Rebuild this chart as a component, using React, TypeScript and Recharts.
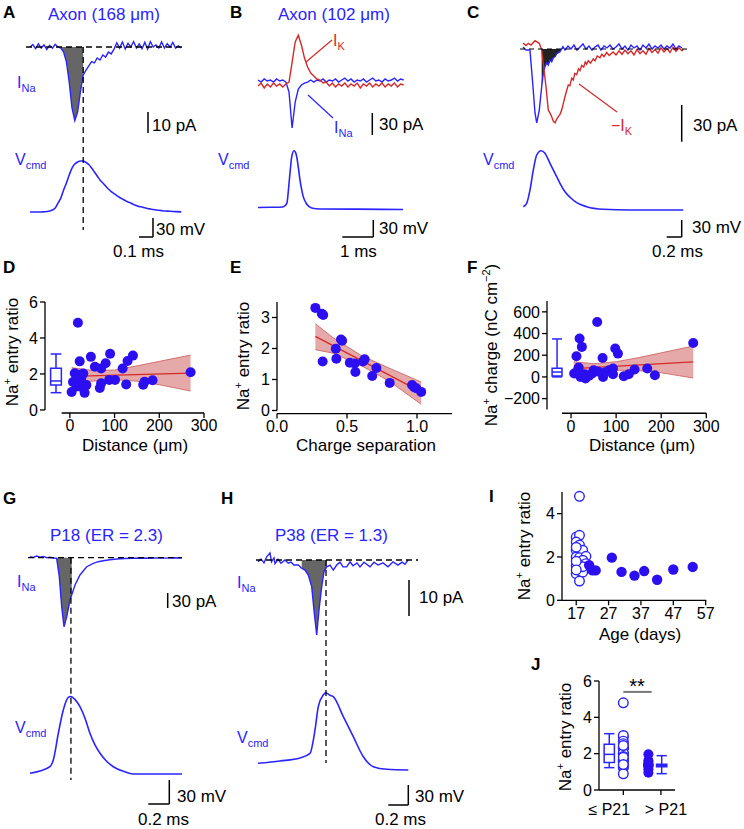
import React from 'react';
import {
  ComposedChart, Line, Area, Scatter, XAxis, YAxis, ReferenceLine, ReferenceArea,
} from 'recharts';

const FONT = '"Liberation Sans", Arial, Helvetica, sans-serif';
const BLUE = '#2a24ff';
const DOT = '#2b0ff0';
const RED = '#d42a2a';
const BAND = '#de8c8c';
const BAND_EDGE = '#c95c5c';

type Pt = [number, number];
type Band = [number, number, number];
type Five = [number, number, number, number, number];

// ---- A: axon 168 um. t in ms, current in pA, command in mV above rest
const aINa: Pt[] = [
  [0, 0], [0.02, 1.2], [0.04, -0.8], [0.06, 1.5], [0.08, -0.5], [0.1, 1], [0.12, -1.2], [0.14, 0.8],
  [0.16, -0.6], [0.18, 1.3], [0.2, 0], [0.22, -0.5], [0.24, -2.4], [0.26, -7], [0.28, -16.7], [0.3, -29],
  [0.32, -35], [0.34, -31], [0.36, -21.4], [0.38, -13.3], [0.4, -11], [0.42, -9], [0.44, -7], [0.46, -7.6],
  [0.48, -5.2], [0.5, -6.2], [0.52, -3.8], [0.54, -4.8], [0.56, -2.4], [0.58, -3.3], [0.6, -1], [0.62, 2],
  [0.64, -0.5], [0.66, 2.4], [0.68, -1], [0.7, 1.8], [0.72, 0], [0.74, 2.6], [0.76, -0.5], [0.78, 1.5],
  [0.8, -0.8], [0.82, 2.2], [0.84, -1], [0.86, 2.5], [0.88, 0], [0.9, 1], [0.92, -0.5], [0.94, 2.4],
  [0.96, -0.5], [0.98, 1.6], [1.0, 0], [1.02, 2.2], [1.04, -0.5], [1.06, 0.5], [1.08, -0.5],
];
const aVcmd: Pt[] = [
  [0, 0], [0.08, 0], [0.1, 0.3], [0.12, 0.8], [0.14, 1.6], [0.16, 3.2], [0.18, 6.3], [0.2, 14.2],
  [0.22, 22], [0.24, 34.8], [0.26, 45.8], [0.28, 58.5], [0.3, 69.5], [0.32, 75.8], [0.34, 79], [0.36, 80.6],
  [0.38, 80.6], [0.4, 78.2], [0.42, 75], [0.44, 69.5], [0.46, 63.2], [0.48, 56.9], [0.5, 50.6], [0.52, 45.8],
  [0.54, 41], [0.56, 36.3], [0.58, 32.4], [0.6, 29.2], [0.62, 26], [0.64, 22.9], [0.66, 20.5], [0.68, 18.2],
  [0.7, 15.8], [0.72, 14.2], [0.74, 11.8], [0.76, 10.3], [0.78, 8.7], [0.8, 7.9], [0.82, 6.6], [0.84, 5.5],
  [0.86, 4.7], [0.88, 3.9], [0.9, 3.2], [0.92, 2.7], [0.94, 2.2], [0.96, 1.7], [0.98, 1.4], [1.0, 1.1],
  [1.04, 0.6], [1.08, 0.3],
];
const A_PEAK = 0.38;

// ---- B: axon 102 um
const bIK: Pt[] = [
  [0, -1.4], [0.1, 2.7], [0.2, -4], [0.3, 1.4], [0.4, -2.7], [0.5, 2.7], [0.6, -1.4], [0.7, 1.4],
  [0.8, -2.7], [0.9, 1.4], [1.0, 4], [1.1, 31], [1.2, 58.7], [1.3, 68], [1.4, 54.6], [1.5, 36.8],
  [1.6, 24.6], [1.7, 16.4], [1.8, 12.3], [1.9, 8.2], [2.0, 6.8], [2.1, 2.7], [2.2, 4], [2.3, -1.4],
  [2.4, 2.7], [2.5, -2.7], [2.6, 1.4], [2.7, -1.4], [2.8, 2.7], [2.9, -2.7], [3.0, 1.4], [3.1, -1.4],
  [3.2, 2.7], [3.3, -4], [3.4, 1.4], [3.5, -1.4], [3.6, 2.7], [3.7, -2.7], [3.8, 1.4], [3.9, -1.4],
  [4.0, 2.7], [4.1, -2.7], [4.2, 1.4], [4.3, -1.4], [4.4, 2.7], [4.5, -2.7], [4.6, 1.4], [4.7, 0],
];
const bINa: Pt[] = [
  [0, 6.8], [0.1, 4], [0.2, 8.2], [0.3, 5.5], [0.4, 6.8], [0.5, 4], [0.6, 8.2], [0.7, 5.5],
  [0.8, 6.8], [0.9, 4], [1.0, -9.5], [1.1, -58.7], [1.2, -23.2], [1.3, -5.5], [1.4, 0], [1.5, 2.7],
  [1.6, 4], [1.7, 6.8], [1.8, 4], [1.9, 6.8], [2.0, 5.5], [2.1, 8.2], [2.2, 4], [2.3, 6.8],
  [2.4, 5.5], [2.5, 8.2], [2.6, 4], [2.7, 6.8], [2.8, 9.5], [2.9, 5.5], [3.0, 8.2], [3.1, 4],
  [3.2, 6.8], [3.3, 5.5], [3.4, 8.2], [3.5, 4], [3.6, 6.8], [3.7, 9.5], [3.8, 5.5], [3.9, 6.8],
  [4.0, 4], [4.1, 8.2], [4.2, 5.5], [4.3, 6.8], [4.4, 9.5], [4.5, 5.5], [4.6, 8.2], [4.7, 6.8],
];
const bVcmd: Pt[] = [
  [0, 0.9], [0.4, 1.2], [0.8, 1.8], [0.93, 8], [0.97, 25], [1.01, 49], [1.05, 72], [1.087, 90],
  [1.16, 101], [1.21, 98], [1.25, 90], [1.3, 72], [1.355, 49], [1.41, 32], [1.46, 20], [1.57, 7],
  [1.73, 0], [2.0, -1.8], [3.0, -2], [4.0, -2.4], [4.68, -2.6],
];

// ---- C: I_Na and -I_K overlaid
const cINa: Pt[] = [
  [0, 1.7], [0.04, -0.9], [0.093, -0.9], [0.129, -29.1], [0.16, -54.8], [0.183, -63.2], [0.217, -52.3],
  [0.249, -32.3], [0.271, -20.6], [0.293, -15.2], [0.315, -12], [0.337, -13.7], [0.36, -9.5], [0.383, -10.9],
  [0.405, -7.5], [0.427, -6.6], [0.45, -4], [0.493, -2.3], [0.533, 2], [0.56, -0.9], [0.6, 2.6], [0.64, 0],
  [0.68, 3.4], [0.72, -0.9], [0.76, 1.7], [0.8, 4.3], [0.84, 0], [0.88, 2.6], [0.92, -0.9], [0.96, 1.7],
  [1.0, 3.4], [1.04, -0.9], [1.08, 2.6], [1.12, 0.9], [1.16, 3.4], [1.2, 0], [1.24, 1.7], [1.28, 4.3],
  [1.32, 0], [1.36, 2.6], [1.4, -0.9], [1.44, 3.4], [1.48, 0.9], [1.52, 2.6], [1.56, -0.9], [1.6, 3.4],
  [1.64, 0.9], [1.68, 4.3], [1.72, 0], [1.76, 2.6], [1.8, 0.9], [1.84, 3.4], [1.88, 0], [1.92, 2.6],
  [1.96, 0.9], [2.0, 4.3], [2.04, 0], [2.08, 2.6], [2.12, 0.9],
];
const cIKneg: Pt[] = [
  [0, 5.1], [0.04, 3], [0.071, 4.9], [0.107, 3.4], [0.16, 7.1], [0.217, 4.9], [0.249, -0.9], [0.28, -18],
  [0.307, -32.3], [0.337, -52.3], [0.36, -55], [0.383, -58], [0.405, -62], [0.427, -63.2], [0.45, -60],
  [0.471, -58], [0.493, -56], [0.516, -52.3], [0.54, -46], [0.56, -40.9], [0.58, -36], [0.604, -30.8],
  [0.625, -31.5], [0.65, -25], [0.671, -26.6], [0.69, -21], [0.716, -22], [0.74, -17], [0.76, -18.5],
  [0.783, -14], [0.81, -15.5], [0.83, -11], [0.849, -13], [0.87, -10], [0.9, -12], [0.937, -8.5],
  [0.96, -10], [0.99, -6], [1.027, -7.5], [1.05, -4.5], [1.08, -6.5], [1.116, -3], [1.15, -5.5],
  [1.2, -2.5], [1.24, -5], [1.28, -1.5], [1.32, -4.5], [1.36, -1], [1.4, -4], [1.44, -1.5], [1.48, -5],
  [1.52, -0.5], [1.56, -4], [1.6, -1.5], [1.64, -4.5], [1.68, 0.5], [1.72, -3], [1.76, -0.5], [1.8, -3.5],
  [1.84, 1], [1.88, -2.5], [1.92, 0.5], [1.96, -3], [2.0, 1.5], [2.04, -2], [2.08, 1], [2.12, -1.5], [2.14, 0],
];
const cVcmd: Pt[] = [
  [0.004, 0.5], [0.049, 6.5], [0.093, 29.6], [0.137, 65], [0.183, 91.7], [0.24, 99.3], [0.293, 94.7],
  [0.36, 77], [0.427, 59.4], [0.493, 41.8], [0.56, 27], [0.627, 17.1], [0.716, 7.6], [0.849, 0.5],
  [1.071, -4], [1.427, -5.3], [2.137, -5.3],
];

// ---- G: P18 (ER = 2.3)
const gINa: Pt[] = [
  [0, 2], [0.03, 0.5], [0.064, 3.4], [0.095, 1], [0.127, 2.5], [0.16, 0], [0.19, 0.8], [0.22, -0.5],
  [0.254, -1.2], [0.279, -38], [0.302, -98], [0.324, -138], [0.35, -118], [0.381, -84.6], [0.397, -74.6],
  [0.429, -54.6], [0.476, -34.6], [0.54, -18], [0.603, -11.2], [0.65, -8], [0.698, -6], [0.76, -4],
  [0.826, -2.6], [0.9, -1.5], [0.984, -1.2], [1.06, -0.6], [1.143, -1.2], [1.22, -0.4], [1.3, -0.8],
  [1.38, -0.2], [1.445, -0.5],
];
const gVcmd: Pt[] = [
  [0, 0.9], [0.095, 3.8], [0.19, 9.1], [0.222, 17.5], [0.27, 50.9], [0.317, 80], [0.365, 95.9],
  [0.386, 96.9], [0.43, 93], [0.476, 84.1], [0.524, 69.6], [0.571, 50.9], [0.619, 36.3], [0.667, 25.9],
  [0.73, 16], [0.794, 9.1], [0.89, 3.5], [0.984, 0], [1.2, 0], [1.448, 0],
];
const G_PEAK = 0.39;

// ---- H: P38 (ER = 1.3)
const hINa: Pt[] = [
  [0, -0.5], [0.03, 0.3], [0.06, -0.8], [0.087, 0.9], [0.12, 2.0], [0.135, -0.5], [0.16, 0.6], [0.17, -1],
  [0.2, 0.2], [0.23, -0.9], [0.27, 0], [0.303, -0.9], [0.33, -0.6], [0.36, -1.4], [0.403, -1.4],
  [0.437, -2.3], [0.47, -2.8], [0.503, -4.2], [0.537, -7.4], [0.563, -14.8], [0.587, -20.8], [0.61, -13.9],
  [0.637, -7.4], [0.66, -3.2], [0.687, -1.9], [0.72, -1.4], [0.753, -2.8], [0.787, -1.4], [0.82, -0.6],
  [0.85, -1.9], [0.887, -1.9], [0.92, -0.5], [0.95, -1.6], [0.99, -0.8], [1.02, -1.9], [1.06, -0.6],
  [1.12, -1.9], [1.16, -0.6], [1.2, -1.4], [1.25, -0.8], [1.3, -1.9], [1.35, -0.5], [1.4, -1.4],
  [1.44, -0.6], [1.47, -1.2], [1.5, 0],
];
const hVcmd: Pt[] = [
  [0, 10], [0.22, 13.5], [0.42, 18], [0.52, 25], [0.57, 60], [0.603, 95], [0.653, 112.4], [0.677, 115.9],
  [0.72, 112], [0.753, 109.9], [0.853, 79.9], [0.953, 49.9], [1.053, 19.9], [1.153, 4.9], [1.287, 1],
  [1.503, 0],
];
const H_PEAK = 0.68;

// ---- D: entry ratio vs distance
const dDistance = [18, 22, 47, 56, 70, 80, 90, 118, 129, 141, 11, 30, 7, 15, 4, 33, 37, 22, 67, 70, 88, 101, 126, 164, 167, 185, 270, 25, 20, 28];
const dRatio = [4.85, 2.7, 2.95, 2.4, 2.3, 2.6, 3.12, 2.3, 2.72, 3.02, 2.04, 2.02, 1.55, 1.3, 1.0, 0.95, 1.38, 1.3, 1.22, 1.48, 1.67, 1.67, 1.42, 1.4, 1.57, 1.65, 2.1, 1.78, 1.95, 1.5];
const dFit: Pt[] = [[4, 1.87], [270, 2.05]];
const dBand: Band[] = [[4, 1.5, 2.35], [50, 1.6, 2.2], [100, 1.68, 2.22], [150, 1.6, 2.45], [200, 1.4, 2.7], [270, 1.05, 3.05]];
const dBox: Five = [0.96, 1.39, 1.61, 2.32, 3.11];

// ---- E: entry ratio vs charge separation
const eCharge = [0.274, 0.32, 0.33, 0.326, 0.42, 0.424, 0.457, 0.465, 0.52, 0.555, 0.56, 0.614, 0.626, 0.71, 0.68, 0.805, 0.965, 0.98, 0.995, 1.03];
const eRatio = [3.31, 3.12, 3.08, 1.58, 1.99, 1.67, 2.29, 2.25, 1.54, 1.52, 1.24, 1.58, 1.65, 1.37, 1.11, 0.89, 0.82, 0.75, 0.72, 0.6];
const eFit: Pt[] = [[0.274, 2.39], [1.03, 0.6]];
const eBand: Band[] = [[0.274, 1.96, 2.8], [0.4, 1.85, 2.35], [0.6, 1.45, 1.78], [0.8, 0.95, 1.37], [1.03, 0.2, 0.92]];

// ---- F: Na+ charge vs distance
const fDistance = [58, 19, 24, 12, 98, 104, 70, 271, 7, 17, 21, 32, 47, 50, 71, 84, 93, 93, 117, 128, 141, 169, 186, 30, 75, 15, 40, 60];
const fCharge = [507, 354, 277, 191, 262, 215, 175, 313, 31, 87, 0, -15, 31, 62, 0, 62, 77, 25, 6, 25, 68, 77, 15, 25, 40, 56, 10, 50];
const fFit: Pt[] = [[6, 77], [271, 138]];
const fBand: Band[] = [[6, 15, 140], [50, 45, 122], [100, 62, 140], [150, 58, 178], [200, 38, 222], [271, -10, 285]];
const fBox: Five = [0, 8, 45, 80, 350];

// ---- I / J: entry ratio vs age
const iAgeOpen = [18, 17, 18, 17, 18, 17, 18, 19, 17, 18, 20, 19, 17, 18, 20, 17, 18, 19, 18, 17, 19, 17, 17];
const iRatioOpen = [4.8, 2.92, 3.0, 2.69, 2.55, 2.31, 2.3, 2.31, 2.0, 1.97, 2.03, 1.85, 1.6, 1.62, 1.69, 1.23, 1.38, 1.3, 0.89, 2.45, 1.55, 1.8, 1.4];
const iAgeFilled = [21, 22, 23, 28, 31, 35, 38, 42, 47, 53];
const iRatioFilled = [1.62, 1.38, 1.38, 1.97, 1.31, 1.14, 1.35, 0.95, 1.42, 1.54];

const jCats = ['\u2264 P21', '> P21'];
const jTickX = [1.28, 3.26];
const jDotX = [1.28, 2.6];
const jBoxX = [0.54, 3.3];
const jBoxes: Five[] = [[1.23, 1.51, 1.96, 2.52, 3.1], [0.9, 1.28, 1.35, 1.42, 1.89]];

// helpers
const xy = (pts: Pt[]) => pts.map(([x, y]) => ({ x, y }));
const zip = (xs: number[], ys: number[]) => xs.map((x, k) => ({ x, y: ys[k] }));
const bandRows = (b: Band[]) => b.map(([x, lo, hi]) => ({ x, band: [lo, hi] }));
const within = (pts: Pt[], t0: number, t1: number) => xy(pts.filter(([t]) => t >= t0 && t <= t1));
const minus = (v: number) => (v < 0 ? '\u2212' + Math.abs(v) : String(v));

const TICK = { fontSize: 16, fill: '#000', fontFamily: FONT };
const AXIS = { stroke: '#000', strokeWidth: 1.3 };

const filledDot = (r: number) => (p: any) => <circle cx={p.cx} cy={p.cy} r={r} fill={DOT} />;
const openDot = (r: number) => (p: any) => (
  <circle cx={p.cx} cy={p.cy} r={r} fill="#fff" stroke={BLUE} strokeWidth={1.4} />
);

const trace = (key: string, pts: Pt[], axis: string, color: string, curve: 'linear' | 'monotone' = 'linear', w = 1.4) => (
  <Line key={key} yAxisId={axis} data={xy(pts)} dataKey="y" type={curve} stroke={color}
    strokeWidth={w} dot={false} isAnimationActive={false} />
);

const shade = (key: string, rows: { x: number; y: number }[], color: string) => (
  <Area key={key} yAxisId="i" data={rows} dataKey="y" type="linear" baseValue={0} fill={color}
    fillOpacity={1} stroke="none" isAnimationActive={false} />
);

const boxPlot = (key: string, cx: number, hw: number, [lo, q1, med, q3, hi]: Five, color: string) => [
  <ReferenceLine key={key + 'w1'} segment={[{ x: cx, y: lo }, { x: cx, y: q1 }]} stroke={color} strokeWidth={1.5} />,
  <ReferenceLine key={key + 'w2'} segment={[{ x: cx, y: q3 }, { x: cx, y: hi }]} stroke={color} strokeWidth={1.5} />,
  <ReferenceLine key={key + 'c1'} segment={[{ x: cx - hw, y: lo }, { x: cx + hw, y: lo }]} stroke={color} strokeWidth={1.5} />,
  <ReferenceLine key={key + 'c2'} segment={[{ x: cx - hw, y: hi }, { x: cx + hw, y: hi }]} stroke={color} strokeWidth={1.5} />,
  <ReferenceArea key={key + 'b'} x1={cx - hw} x2={cx + hw} y1={q1} y2={q3} fill="#fff" fillOpacity={1}
    stroke={color} strokeWidth={1.5} />,
  <ReferenceLine key={key + 'm'} segment={[{ x: cx - hw, y: med }, { x: cx + hw, y: med }]} stroke={color} strokeWidth={1.5} />,
];

type Box4 = [number, number, number, number];

const TraceChart = ({ box, x, i, v, children }: { box: Box4; x: Pt; i: Pt; v: Pt; children: React.ReactNode }) => (
  <div style={{ position: 'absolute', left: box[0], top: box[1] }}>
    <ComposedChart width={box[2]} height={box[3]} margin={{ top: 0, right: 0, bottom: 0, left: 0 }}>
      <XAxis type="number" dataKey="x" domain={x} hide allowDataOverflow />
      <YAxis yAxisId="i" type="number" dataKey="y" domain={i} hide allowDataOverflow />
      <YAxis yAxisId="v" type="number" dataKey="y" domain={v} hide allowDataOverflow />
      {children}
    </ComposedChart>
  </div>
);

const PlotChart = ({ plot, xDomain, yDomain, xTicks, yTicks, xFmt, yFmt, xTick, detached, children }: any) => {
  const [px, py, pw, ph] = plot;
  return (
    <div style={{ position: 'absolute', left: px - 45, top: py - 10 }}>
      <ComposedChart width={pw + 55} height={ph + 40} margin={{ top: 10, right: 10, bottom: 0, left: 0 }}>
        <XAxis type="number" dataKey="x" domain={xDomain} ticks={xTicks} interval={0} tickFormatter={xFmt}
          tick={xTick ?? TICK} tickLine={AXIS} axisLine={detached ? false : AXIS} tickSize={5} height={30} />
        <YAxis type="number" dataKey="y" domain={yDomain} ticks={yTicks} interval={0} tickFormatter={yFmt}
          tick={TICK} tickLine={AXIS} axisLine={detached ? false : AXIS} tickSize={5} width={45} />
        {children}
      </ComposedChart>
    </div>
  );
};

const Sub = ({ x, y, main, sub, color }: { x: number; y: number; main: string; sub: string; color: string }) => (
  <text x={x} y={y} fill={color} fontSize={16}>
    {main}
    <tspan fontSize={11} dy={4}>{sub}</tspan>
  </text>
);

const YLabel = ({ x, y, children }: { x: number; y: number; children: React.ReactNode }) => (
  <text transform={`translate(${x},${y}) rotate(-90)`} textAnchor="middle" fontSize={17} fill="#000">
    {children}
  </text>
);

const NaEntry = () => (
  <>
    Na<tspan dy={-7} fontSize={11}>+</tspan>
    <tspan dy={7}> entry ratio</tspan>
  </>
);

const Bar = ({ d }: { d: number[] }) => (
  <line x1={d[0]} y1={d[1]} x2={d[2]} y2={d[3]} stroke="#000" strokeWidth={1.5} />
);

const jTick = (p: any) => (
  <text x={p.x + (p.index === 0 ? -14 : 5)} y={p.y + 7} dy="0.71em" textAnchor="middle" fontSize={16}
    fontFamily={FONT} fill="#000">
    {jCats[p.index]}
  </text>
);

export default function App() {
  return (
    <div style={{ position: 'absolute', left: 0, top: 0, width: 744, height: 829, background: '#fff', overflow: 'hidden', fontFamily: FONT }}>
      <style>{'.recharts-surface{overflow:visible}'}</style>

      {/* A */}
      <TraceChart box={[26, 30, 156, 210]} x={[-0.0286, 1.0857]} i={[-91.9, 8.1]} v={[-44.2, 287.5]}>
        {shade('as', within(aINa, 0.22, A_PEAK), '#666')}
        {trace('ai', aINa, 'i', BLUE)}
        {trace('av', aVcmd, 'v', BLUE, 'monotone', 1.6)}
        <ReferenceLine yAxisId="i" y={0} stroke="#000" strokeWidth={1.3} strokeDasharray="6 4" />
        <ReferenceLine yAxisId="i" segment={[{ x: A_PEAK, y: 0 }, { x: A_PEAK, y: -87.1 }]} stroke="#000"
          strokeWidth={1.3} strokeDasharray="6 4" />
      </TraceChart>

      {/* B */}
      <TraceChart box={[255, 25, 150, 200]} x={[-0.097, 4.742]} i={[-191, 81.9]} v={[-30, 322.8]}>
        {trace('bn', bINa, 'i', BLUE)}
        {trace('bk', bIK, 'i', RED)}
        {trace('bv', bVcmd, 'v', BLUE, 'monotone', 1.6)}
      </TraceChart>

      {/* C */}
      <TraceChart box={[520, 30, 170, 200]} x={[-0.04, 2.227]} i={[-155.1, 16.3]} v={[-40.6, 312.2]}>
        {shade('cs', within(cINa, 0.249, 0.533), '#222')}
        {trace('cn', cINa, 'i', BLUE)}
        {trace('ck', cIKneg, 'i', RED)}
        {trace('cv', cVcmd, 'v', BLUE, 'monotone', 1.6)}
        <ReferenceLine yAxisId="i" y={0} stroke="#000" strokeWidth={1.2} strokeDasharray="5 4" />
      </TraceChart>

      {/* G */}
      <TraceChart box={[28, 540, 154, 250]} x={[-0.019, 1.448]} i={[-464.6, 35.4]} v={[-20, 292.5]}>
        {shade('gs', within(gINa, 0.254, 0.397), '#666')}
        {trace('gi', gINa, 'i', BLUE)}
        {trace('gv', gVcmd, 'v', BLUE, 'monotone', 1.6)}
        <ReferenceLine yAxisId="i" y={0} stroke="#000" strokeWidth={1.3} strokeDasharray="6 4" />
        <ReferenceLine yAxisId="i" segment={[{ x: G_PEAK, y: 0 }, { x: G_PEAK, y: -444.6 }]} stroke="#000"
          strokeWidth={1.3} strokeDasharray="6 4" />
      </TraceChart>

      {/* H */}
      <TraceChart box={[256, 540, 162, 250]} x={[-0.02, 1.6]} i={[-63.9, 5.56]} v={[-30, 344.8]}>
        {shade('hs', within(hINa, 0.42, 0.69), '#666')}
        {trace('hi', hINa, 'i', BLUE)}
        {trace('hv', hVcmd, 'v', BLUE, 'monotone', 1.6)}
        <ReferenceLine yAxisId="i" y={0} stroke="#000" strokeWidth={1.3} strokeDasharray="6 4" />
        <ReferenceLine yAxisId="i" segment={[{ x: H_PEAK, y: 0 }, { x: H_PEAK, y: -56.4 }]} stroke="#000"
          strokeWidth={1.3} strokeDasharray="6 4" />
      </TraceChart>

      {/* D */}
      <PlotChart plot={[45, 302, 159, 111]} xDomain={[-55.6, 300]} yDomain={[-0.17, 6]}
        xTicks={[0, 100, 200, 300]} yTicks={[0, 2, 4, 6]} detached>
        <Area data={bandRows(dBand)} dataKey="band" type="linear" fill={BAND} fillOpacity={0.75}
          stroke={BAND_EDGE} strokeWidth={0.8} isAnimationActive={false} />
        <Scatter data={zip(dDistance, dRatio)} shape={filledDot(5)} isAnimationActive={false} />
        <Line data={xy(dFit)} dataKey="y" stroke={RED} strokeWidth={1.3} dot={false} isAnimationActive={false} />
        {boxPlot('db', -31, 12, dBox, BLUE)}
        <ReferenceLine segment={[{ x: -18.4, y: -0.17 }, { x: 300, y: -0.17 }]} {...AXIS} />
        <ReferenceLine segment={[{ x: -55.6, y: 0 }, { x: -55.6, y: 6 }]} {...AXIS} />
      </PlotChart>

      {/* E */}
      <PlotChart plot={[277, 301.5, 175, 111.6]} xDomain={[0, 1.25]} yDomain={[-0.1, 3.5]}
        xTicks={[0, 0.5, 1]} yTicks={[0, 1, 2, 3]} xFmt={(v: number) => v.toFixed(1)} detached>
        <Area data={bandRows(eBand)} dataKey="band" type="linear" fill={BAND} fillOpacity={0.75}
          stroke={BAND_EDGE} strokeWidth={0.8} isAnimationActive={false} />
        <Scatter data={zip(eCharge, eRatio)} shape={filledDot(5)} isAnimationActive={false} />
        <Line data={xy(eFit)} dataKey="y" stroke={RED} strokeWidth={1.3} dot={false} isAnimationActive={false} />
        <ReferenceLine segment={[{ x: 0, y: -0.1 }, { x: 1.25, y: -0.1 }]} {...AXIS} />
        <ReferenceLine segment={[{ x: 0, y: 0 }, { x: 0, y: 3.5 }]} {...AXIS} />
      </PlotChart>

      {/* F */}
      <PlotChart plot={[546.7, 300.75, 159.3, 112.25]} xDomain={[-53.3, 300]} yDomain={[-335, 700]}
        xTicks={[0, 100, 200, 300]} yTicks={[-200, 0, 200, 400, 600]} yFmt={minus} detached>
        <Area data={bandRows(fBand)} dataKey="band" type="linear" fill={BAND} fillOpacity={0.75}
          stroke={BAND_EDGE} strokeWidth={0.8} isAnimationActive={false} />
        <Scatter data={zip(fDistance, fCharge)} shape={filledDot(5)} isAnimationActive={false} />
        <Line data={xy(fFit)} dataKey="y" stroke={RED} strokeWidth={1.3} dot={false} isAnimationActive={false} />
        {boxPlot('fb', -31, 11, fBox, BLUE)}
        <ReferenceLine segment={[{ x: -20, y: -335 }, { x: 300, y: -335 }]} {...AXIS} />
        <ReferenceLine segment={[{ x: -53.3, y: -300 }, { x: -53.3, y: 700 }]} {...AXIS} />
      </PlotChart>

      {/* I */}
      <PlotChart plot={[561.7, 491.7, 144.3, 108.3]} xDomain={[12.6, 57.2]} yDomain={[0, 5]}
        xTicks={[17, 27, 37, 47, 57]} yTicks={[0, 2, 4]}>
        <Scatter data={zip(iAgeOpen, iRatioOpen)} shape={openDot(4.8)} isAnimationActive={false} />
        <Scatter data={zip(iAgeFilled, iRatioFilled)} shape={filledDot(5.2)} isAnimationActive={false} />
      </PlotChart>

      {/* J */}
      <PlotChart plot={[599, 680.7, 76, 109]} xDomain={[0, 4]} yDomain={[0, 6]}
        xTicks={jTickX} yTicks={[0, 2, 4, 6]} xTick={jTick}>
        {boxPlot('j1', jBoxX[0], 0.27, jBoxes[0], BLUE)}
        {boxPlot('j2', jBoxX[1], 0.27, jBoxes[1], BLUE)}
        <Scatter data={iRatioOpen.map((y) => ({ x: jDotX[0], y }))} shape={openDot(4.8)} isAnimationActive={false} />
        <Scatter data={iRatioFilled.map((y) => ({ x: jDotX[1], y }))} shape={filledDot(5)} isAnimationActive={false} />
        <ReferenceLine segment={[{ x: 1.28, y: 5.4 }, { x: 2.77, y: 5.4 }]} stroke="#777" strokeWidth={2} />
      </PlotChart>

      <svg width={744} height={829} style={{ position: 'absolute', left: 0, top: 0, pointerEvents: 'none' }}
        fontFamily={FONT}>
        {/* panel letters */}
        <g fontSize={17} fontWeight="bold" fill="#000">
          <text x={3} y={18}>A</text>
          <text x={230} y={18}>B</text>
          <text x={467} y={18}>C</text>
          <text x={3} y={273}>D</text>
          <text x={230} y={273}>E</text>
          <text x={467} y={273}>F</text>
          <text x={3} y={504}>G</text>
          <text x={221} y={504}>H</text>
          <text x={489} y={502}>I</text>
          <text x={531} y={670}>J</text>
        </g>
        {/* titles */}
        <g fontSize={17} fill={BLUE}>
          <text x={48} y={20}>Axon (168 {'\u03bc'}m)</text>
          <text x={278} y={20}>Axon (102 {'\u03bc'}m)</text>
          <text x={50} y={541}>P18 (ER = 2.3)</text>
          <text x={275} y={541}>P38 (ER = 1.3)</text>
        </g>
        {/* trace labels */}
        <Sub x={17} y={88} main="I" sub="Na" color={BLUE} />
        <Sub x={15} y={165} main="V" sub="cmd" color={BLUE} />
        <Sub x={218} y={165} main="V" sub="cmd" color={BLUE} />
        <Sub x={333} y={46} main="I" sub="K" color={RED} />
        <Sub x={334} y={133} main="I" sub="Na" color={BLUE} />
        <Sub x={611} y={131} main={'\u2212I'} sub="K" color={RED} />
        <Sub x={483} y={165} main="V" sub="cmd" color={BLUE} />
        <Sub x={17} y={587} main="I" sub="Na" color={BLUE} />
        <Sub x={15} y={733} main="V" sub="cmd" color={BLUE} />
        <Sub x={237} y={588} main="I" sub="Na" color={BLUE} />
        <Sub x={237} y={743} main="V" sub="cmd" color={BLUE} />
        <line x1={306} y1={62} x2={332} y2={40} stroke={RED} strokeWidth={1.2} />
        <line x1={308} y1={95} x2={333} y2={118} stroke={BLUE} strokeWidth={1.2} />
        <line x1={579} y1={84} x2={617} y2={112} stroke={RED} strokeWidth={1.2} />
        {/* scale bars */}
        <Bar d={[148, 112, 148, 133]} />
        <Bar d={[153, 218, 153, 237]} />
        <Bar d={[139, 237, 153, 237]} />
        <Bar d={[372.3, 113, 372.3, 135]} />
        <Bar d={[373.3, 220, 373.3, 237]} />
        <Bar d={[342.3, 237, 373.3, 237]} />
        <Bar d={[681.7, 105, 681.7, 141.7]} />
        <Bar d={[681.7, 220, 681.7, 237]} />
        <Bar d={[666.7, 237, 681.7, 237]} />
        <Bar d={[167.7, 593, 167.7, 608]} />
        <Bar d={[169.3, 780, 169.3, 804]} />
        <Bar d={[148.3, 804, 169.3, 804]} />
        <Bar d={[409, 580, 409, 616]} />
        <Bar d={[408.3, 785, 408.3, 805]} />
        <Bar d={[388.3, 805, 408.3, 805]} />
        <g fontSize={17} fill="#000">
          <text x={152} y={131}>10 pA</text>
          <text x={156} y={235}>30 mV</text>
          <text x={113} y={257}>0.1 ms</text>
          <text x={379} y={130}>30 pA</text>
          <text x={379} y={234}>30 mV</text>
          <text x={340} y={257}>1 ms</text>
          <text x={693} y={131}>30 pA</text>
          <text x={692} y={233}>30 mV</text>
          <text x={652} y={257}>0.2 ms</text>
          <text x={172} y={607}>30 pA</text>
          <text x={177} y={802}>30 mV</text>
          <text x={138} y={825}>0.2 ms</text>
          <text x={419} y={603}>10 pA</text>
          <text x={415} y={802}>30 mV</text>
          <text x={375} y={825}>0.2 ms</text>
        </g>
        {/* axis titles */}
        <YLabel x={18} y={352}><NaEntry /></YLabel>
        <YLabel x={249} y={356}><NaEntry /></YLabel>
        <YLabel x={497} y={345}>
          Na<tspan dy={-7} fontSize={11}>+</tspan>
          <tspan dy={7}> charge (nC cm</tspan>
          <tspan dy={-7} fontSize={11}>{'\u22122'}</tspan>
          <tspan dy={7}>)</tspan>
        </YLabel>
        <YLabel x={530} y={546}><NaEntry /></YLabel>
        <YLabel x={571} y={737}><NaEntry /></YLabel>
        <g fontSize={17} fill="#000" textAnchor="middle">
          <text x={135} y={451}>Distance ({'\u03bc'}m)</text>
          <text x={366} y={451}>Charge separation</text>
          <text x={642} y={451}>Distance ({'\u03bc'}m)</text>
          <text x={640} y={640}>Age (days)</text>
        </g>
        <text x={637} y={693} fontSize={20} textAnchor="middle" fill="#000">**</text>
      </svg>
    </div>
  );
}
